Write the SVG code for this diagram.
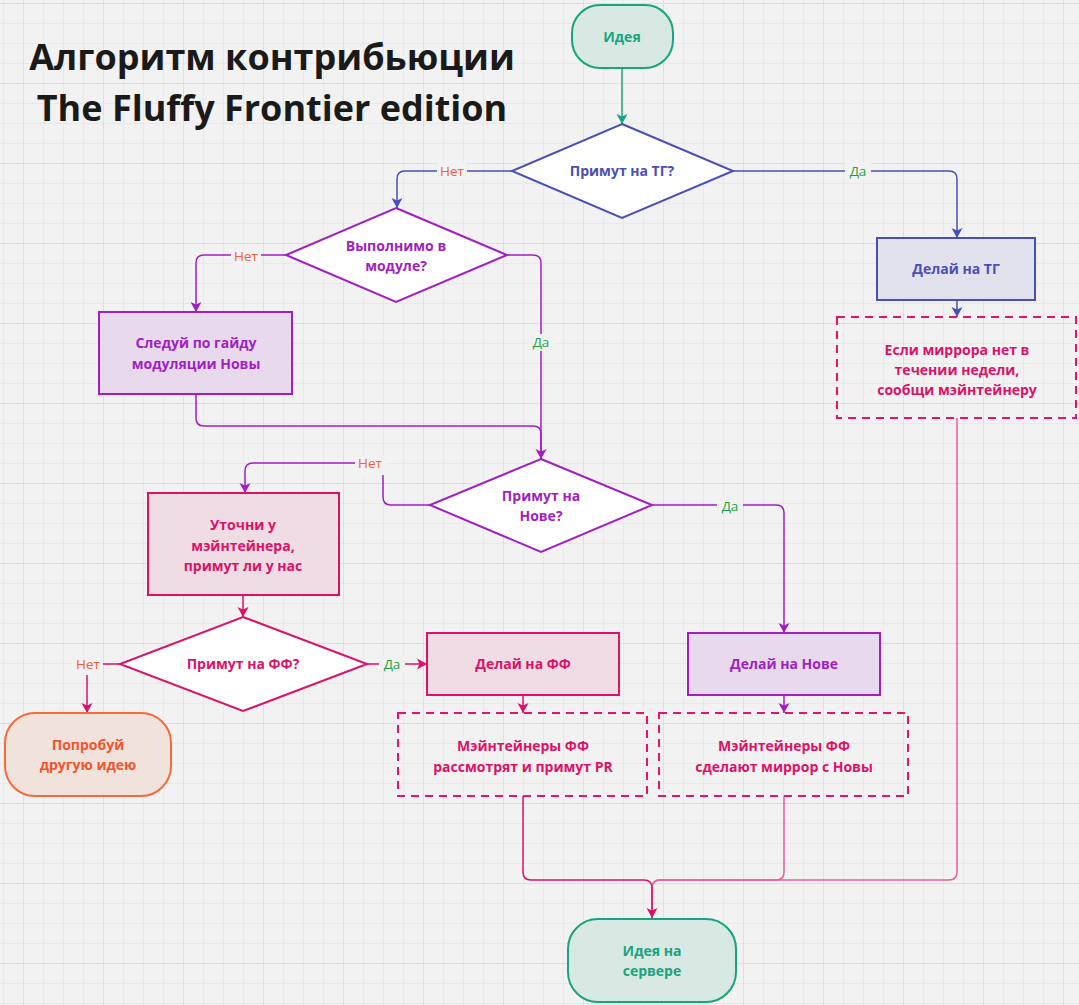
<svg xmlns="http://www.w3.org/2000/svg" width="1079" height="1005" viewBox="0 0 1079 1005">
<defs>
<pattern id="grid" x="23" y="3" width="80" height="80" patternUnits="userSpaceOnUse">
<path d="M20.5,0V80M40.5,0V80M60.5,0V80M0,20.5H80M0,40.5H80M0,60.5H80" stroke="#e9e9e9" stroke-width="1" fill="none"/>
<path d="M0.5,0V80M0,0.5H80" stroke="#dfdfdf" stroke-width="1" fill="none"/>
</pattern>
<marker id="aTeal" viewBox="0 0 10 12" refX="10" refY="6" markerWidth="10" markerHeight="12" markerUnits="userSpaceOnUse" orient="auto"><path d="M0,0.5L10,6L0,11.5L2.5,6Z" fill="#17a47e"/></marker>
<marker id="aBlue" viewBox="0 0 10 12" refX="10" refY="6" markerWidth="10" markerHeight="12" markerUnits="userSpaceOnUse" orient="auto"><path d="M0,0.5L10,6L0,11.5L2.5,6Z" fill="#4a4fb5"/></marker>
<marker id="aPurple" viewBox="0 0 10 12" refX="10" refY="6" markerWidth="10" markerHeight="12" markerUnits="userSpaceOnUse" orient="auto"><path d="M0,0.5L10,6L0,11.5L2.5,6Z" fill="#a11fc2"/></marker>
<marker id="aPink" viewBox="0 0 10 12" refX="10" refY="6" markerWidth="10" markerHeight="12" markerUnits="userSpaceOnUse" orient="auto"><path d="M0,0.5L10,6L0,11.5L2.5,6Z" fill="#dc1268"/></marker>
</defs>
<style>
text{font-family:"Open Sans","Noto Sans","Liberation Sans",sans-serif;text-anchor:middle}
.t{font-weight:700;font-size:14px}
.title{font-weight:700;font-size:36px;fill:#1a1a1a}
.lbl{font-size:13.5px}
.no{fill:#f0603c}
.yes{fill:#25a244}
.lb{fill:#f2f2f2}
.c{fill:none;stroke-width:1.5}
.teal{stroke:#17a47e}
.blue{stroke:#4a4fb5}
.purple{stroke:#a11fc2}
.pink{stroke:#dc1268}
.pinkl{stroke:#e8609d}
.n{stroke-width:2}
.dash{fill:none;stroke:#e0156e;stroke-width:2;stroke-dasharray:8 6}
.tTeal{fill:#17a47e}.tBlue{fill:#4a4fb5}.tPurple{fill:#a11fc2}.tPink{fill:#dc1268}.tOrange{fill:#f0552e}
</style>
<rect width="1079" height="1005" fill="#f2f2f2"/>
<rect width="1079" height="1005" fill="url(#grid)"/>

<g id="title">
<text class="title" x="272" y="70">Алгоритм контрибьюции</text>
<text class="title" x="272" y="121">The Fluffy Frontier edition</text>
</g>

<g id="connectors">
<path class="c teal" d="M622,68V124" marker-end="url(#aTeal)"/>
<path class="c blue" d="M512,171H405Q397,171 397,179V208" marker-end="url(#aBlue)"/>
<path class="c blue" d="M733,171H949Q957,171 957,179V238" marker-end="url(#aBlue)"/>
<path class="c purple" d="M286,255H204Q196,255 196,263V312" marker-end="url(#aPurple)"/>
<path class="c purple" d="M507,255H533Q541,255 541,263V459" marker-end="url(#aPurple)"/>
<path class="c purple" d="M196,394V418Q196,426 204,426H533Q541,426 541,434V459"/>
<path class="c purple" d="M430,505H391Q383,505 383,497V463H253Q245,463 245,471V493" marker-end="url(#aPurple)"/>
<path class="c purple" d="M652,505H776Q784,505 784,513V633" marker-end="url(#aPurple)"/>
<path class="c pink" d="M243,595V617" marker-end="url(#aPink)"/>
<path class="c pink" d="M367,664H427" marker-end="url(#aPink)"/>
<path class="c pink" d="M120,664H87V713" marker-end="url(#aPink)"/>
<path class="c pink" d="M523,695V713" marker-end="url(#aPink)"/>
<path class="c purple" d="M784,695V713" marker-end="url(#aPurple)"/>
<path class="c blue" d="M957,300V317" marker-end="url(#aBlue)"/>
<path class="c pinkl" d="M957,418V872Q957,880 949,880H660Q652,880 652,888V918"/>
<path class="c pinkl" d="M784,796V872Q784,880 776,880H660Q652,880 652,888V918"/>
<path class="c pink" d="M523,796V872Q523,880 531,880H644Q652,880 652,888V918" marker-end="url(#aPink)"/>
<rect class="lb" x="437" y="163" width="30" height="17"/><text class="lbl no" x="452" y="176">Нет</text>
<rect class="lb" x="845" y="163" width="26" height="17"/><text class="lbl yes" x="858" y="176">Да</text>
<rect class="lb" x="231" y="247" width="30" height="17"/><text class="lbl no" x="246" y="261">Нет</text>
<rect class="lb" x="528" y="334" width="26" height="17"/><text class="lbl yes" x="541" y="347">Да</text>
<rect class="lb" x="355" y="455" width="31" height="20"/><text class="lbl no" x="370" y="468">Нет</text>
<rect class="lb" x="717" y="497" width="26" height="17"/><text class="lbl yes" x="730" y="511">Да</text>
<rect class="lb" x="379" y="656" width="26" height="17"/><text class="lbl yes" x="392" y="669">Да</text>
<rect class="lb" x="72" y="656" width="31" height="19"/><text class="lbl no" x="88" y="669">Нет</text>
</g>

<g id="idea">
<rect x="572" y="5" width="101" height="63" rx="28" fill="#d8e9e4" stroke="#17a47e" class="n"/>
<text class="t tTeal" x="622" y="42">Идея</text>
</g>
<g id="q-tg">
<polygon points="622,124 733,171 622,218 512,171" fill="#fff" stroke="#4a4fb5" class="n"/>
<text class="t tBlue" x="622" y="176">Примут на ТГ?</text>
</g>
<g id="q-module">
<polygon points="396,208 507,255 396,302 286,255" fill="#fff" stroke="#a11fc2" class="n"/>
<text class="t tPurple" x="396" y="251">Выполнимо в</text>
<text class="t tPurple" x="396" y="271">модуле?</text>
</g>
<g id="guide">
<rect x="99" y="312" width="193" height="82" fill="#e8d9ec" stroke="#a11fc2" class="n"/>
<text class="t tPurple" x="196" y="348">Следуй по гайду</text>
<text class="t tPurple" x="196" y="369">модуляции Новы</text>
</g>
<g id="q-nova">
<polygon points="541,459 652,505 541,552 430,505" fill="#fff" stroke="#a11fc2" class="n"/>
<text class="t tPurple" x="541" y="501">Примут на</text>
<text class="t tPurple" x="541" y="521">Нове?</text>
</g>
<g id="ask">
<rect x="148" y="493" width="191" height="102" fill="#efdce4" stroke="#dc1268" class="n"/>
<text class="t tPink" x="243" y="530">Уточни у</text>
<text class="t tPink" x="243" y="551">мэйнтейнера,</text>
<text class="t tPink" x="243" y="571">примут ли у нас</text>
</g>
<g id="q-ff">
<polygon points="243,617 367,664 243,711 120,664" fill="#fff" stroke="#dc1268" class="n"/>
<text class="t tPink" x="243" y="669">Примут на ФФ?</text>
</g>
<g id="try-other">
<rect x="5" y="713" width="166" height="83" rx="30" fill="#f2e2dc" stroke="#f56b3a" class="n"/>
<text class="t tOrange" x="88" y="750">Попробуй</text>
<text class="t tOrange" x="88" y="770">другую идею</text>
</g>
<g id="do-ff">
<rect x="427" y="633" width="192" height="62" fill="#efdce4" stroke="#dc1268" class="n"/>
<text class="t tPink" x="523" y="669">Делай на ФФ</text>
</g>
<g id="do-nova">
<rect x="688" y="633" width="192" height="62" fill="#e8d9ec" stroke="#a11fc2" class="n"/>
<text class="t tPurple" x="784" y="669">Делай на Нове</text>
</g>
<g id="ff-review">
<rect class="dash" x="398" y="713" width="249" height="83"/>
<text class="t tPink" x="523" y="751">Мэйнтейнеры ФФ</text>
<text class="t tPink" x="523" y="772">рассмотрят и примут PR</text>
</g>
<g id="nova-mirror">
<rect class="dash" x="659" y="713" width="249" height="83"/>
<text class="t tPink" x="784" y="751">Мэйнтейнеры ФФ</text>
<text class="t tPink" x="784" y="772">сделают миррор с Новы</text>
</g>
<g id="do-tg">
<rect x="877" y="238" width="158" height="62" fill="#e1e2ee" stroke="#4a4fb5" class="n"/>
<text class="t tBlue" x="956" y="274">Делай на ТГ</text>
</g>
<g id="tg-mirror">
<rect class="dash" x="837" y="317" width="239" height="101"/>
<text class="t tPink" x="957" y="355">Если миррора нет в</text>
<text class="t tPink" x="957" y="375">течении недели,</text>
<text class="t tPink" x="957" y="395">сообщи мэйнтейнеру</text>
</g>
<g id="idea-server">
<rect x="568" y="919" width="168" height="83" rx="30" fill="#d8e9e4" stroke="#17a47e" class="n"/>
<text class="t tTeal" x="652" y="956">Идея на</text>
<text class="t tTeal" x="652" y="976">сервере</text>
</g>
</svg>
